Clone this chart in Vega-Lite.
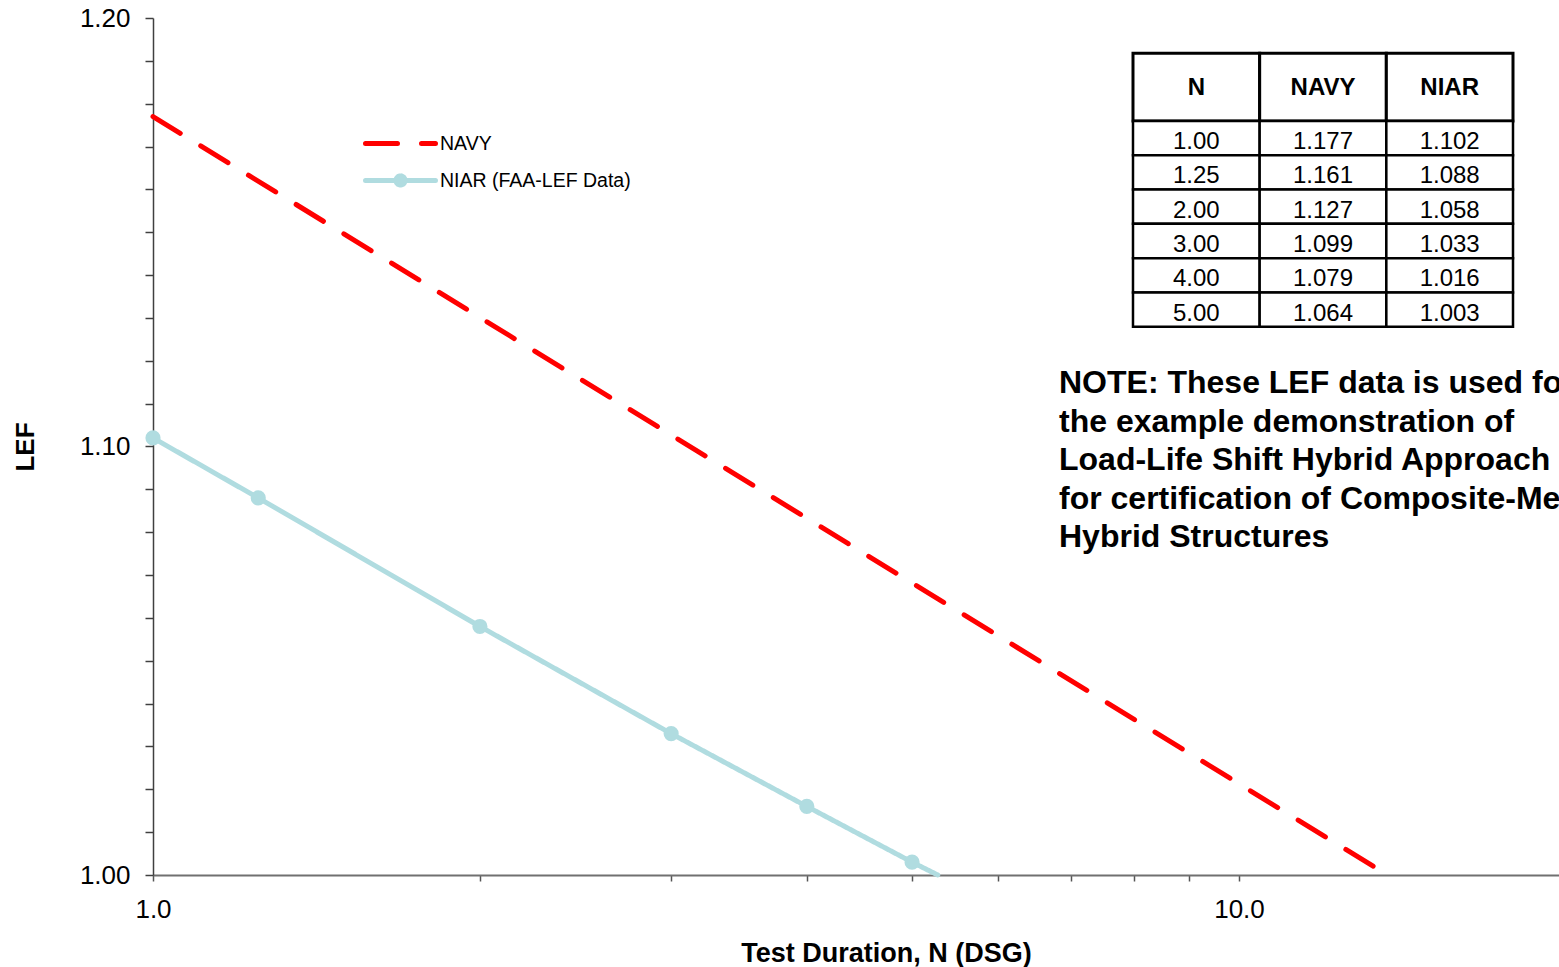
{
  "$schema": "https://vega.github.io/schema/vega-lite/v6.json",
  "width": 1406,
  "height": 857,
  "autosize": {"type": "none"},
  "padding": {"left": 153, "top": 18, "right": 0, "bottom": 92},
  "background": "white",
  "config": {"view": {"stroke": null}, "font": "Liberation Sans"},
  "datasets": {
    "lines": [
      {"series": "NAVY", "N": 1, "LEF": 1.177},
      {"series": "NAVY", "N": 13.7, "LEF": 1.0},
      {"series": "NIAR (FAA-LEF Data)", "N": 1, "LEF": 1.102},
      {"series": "NIAR (FAA-LEF Data)", "N": 1.25, "LEF": 1.088},
      {"series": "NIAR (FAA-LEF Data)", "N": 2, "LEF": 1.058},
      {"series": "NIAR (FAA-LEF Data)", "N": 3, "LEF": 1.033},
      {"series": "NIAR (FAA-LEF Data)", "N": 4, "LEF": 1.016},
      {"series": "NIAR (FAA-LEF Data)", "N": 5, "LEF": 1.003},
      {"series": "NIAR (FAA-LEF Data)", "N": 5.28, "LEF": 1.0}
    ],
    "niar_pts": [
      {"N": 1, "LEF": 1.102},
      {"N": 1.25, "LEF": 1.088},
      {"N": 2, "LEF": 1.058},
      {"N": 3, "LEF": 1.033},
      {"N": 4, "LEF": 1.016},
      {"N": 5, "LEF": 1.003}
    ],
    "hdr": [
      {"col": "N", "part": "header"},
      {"col": "NAVY", "part": "header"},
      {"col": "NIAR", "part": "header"}
    ],
    "tbl": [
      {"N": "1.00", "NAVY": "1.177", "NIAR": "1.102"},
      {"N": "1.25", "NAVY": "1.161", "NIAR": "1.088"},
      {"N": "2.00", "NAVY": "1.127", "NIAR": "1.058"},
      {"N": "3.00", "NAVY": "1.099", "NIAR": "1.033"},
      {"N": "4.00", "NAVY": "1.079", "NIAR": "1.016"},
      {"N": "5.00", "NAVY": "1.064", "NIAR": "1.003"}
    ],
    "note": [
      {"line": 1, "text": "NOTE: These LEF data is used for"},
      {"line": 2, "text": "the example demonstration of"},
      {"line": 3, "text": "Load-Life Shift Hybrid Approach"},
      {"line": 4, "text": "for certification of Composite-Metal"},
      {"line": 5, "text": "Hybrid Structures"}
    ]
  },
  "layer": [
    {
      "layer": [
        {
          "data": {"name": "lines"},
          "mark": {"type": "line", "strokeWidth": 5, "strokeCap": "round"},
          "encoding": {
            "x": {
              "field": "N", "type": "quantitative",
              "scale": {"type": "log", "domain": [1, 19.71], "nice": false},
              "axis": {
                "values": [1, 2, 3, 4, 5, 6, 7, 8, 9, 10],
                "labelExpr": "datum.value == 1 || datum.value == 10 ? format(datum.value, '.1f') : ''",
                "grid": false,
                "tickSize": 6, "tickColor": "#555555", "tickWidth": 1.5,
                "domainColor": "#707070", "domainWidth": 2,
                "labelFontSize": 26, "labelFont": "Liberation Sans", "labelColor": "black",
                "labelPadding": 15, "labelFlush": false, "labelOverlap": false, "labelBound": false,
                "title": "Test Duration, N (DSG)",
                "titleFontSize": 27, "titleFontWeight": "bold", "titleColor": "black", "titleFont": "Liberation Sans",
                "titleX": 733, "titleY": 86, "titleBaseline": "alphabetic", "titleAlign": "center"
              }
            },
            "y": {
              "field": "LEF", "type": "quantitative",
              "scale": {"domain": [1.0, 1.2], "nice": false, "zero": false},
              "axis": {
                "values": [1.0, 1.01, 1.02, 1.03, 1.04, 1.05, 1.06, 1.07, 1.08, 1.09, 1.1, 1.11, 1.12, 1.13, 1.14, 1.15, 1.16, 1.17, 1.18, 1.19, 1.2],
                "labelExpr": "round(datum.value*100) % 10 == 0 ? format(datum.value, '.2f') : ''",
                "grid": false,
                "tickSize": 8, "tickColor": "#404040", "tickWidth": 1.5,
                "domainColor": "#404040", "domainWidth": 1.5,
                "labelFontSize": 26, "labelFont": "Liberation Sans", "labelColor": "black",
                "labelPadding": 15, "labelOverlap": false, "labelBound": false, "labelFlush": false,
                "title": "LEF",
                "titleFontSize": 26, "titleFontWeight": "bold", "titleColor": "black", "titleFont": "Liberation Sans",
                "titleX": -120, "titleY": 428.5, "titleAngle": -90, "titleBaseline": "alphabetic", "titleAlign": "center"
              }
            },
            "color": {
              "field": "series", "type": "nominal",
              "scale": {"domain": ["NAVY", "NIAR (FAA-LEF Data)"], "range": ["#FF0000", "#B0DCE0"]},
              "legend": {
                "orient": "none", "legendX": 227.5, "legendY": 105.5, "title": null,
                "symbolType": "M-2,0H2", "symbolSize": 1225, "symbolStrokeWidth": 5,
                "labelFontSize": 19.5, "labelFont": "Liberation Sans", "labelColor": "black", "labelLimit": 0,
                "labelOffset": 19.5, "rowPadding": 7, "padding": 0,
                "encode": {
                  "symbols": {
                    "update": {
                      "shape": {"signal": "datum.value === 'NAVY' ? 'M-2,0H2' : 'M-2,0H2M0.26,0A0.26,0.26,0,1,1,-0.26,0A0.26,0.26,0,1,1,0.26,0'"},
                      "fill": {"signal": "datum.value === 'NAVY' ? 'transparent' : '#B0DCE0'"},
                      "strokeCap": {"value": "round"}
                    }
                  }
                }
              }
            },
            "strokeDash": {
              "field": "series", "type": "nominal",
              "scale": {"domain": ["NAVY", "NIAR (FAA-LEF Data)"], "range": [[32, 24], [1, 0]]},
              "legend": {
                "orient": "none", "legendX": 227.5, "legendY": 105.5, "title": null,
                "symbolType": "M-2,0H2", "symbolSize": 1225, "symbolStrokeWidth": 5,
                "labelFontSize": 19.5, "labelFont": "Liberation Sans", "labelColor": "black", "labelLimit": 0,
                "labelOffset": 19.5, "rowPadding": 7, "padding": 0,
                "encode": {
                  "symbols": {
                    "update": {
                      "shape": {"signal": "datum.value === 'NAVY' ? 'M-2,0H2' : 'M-2,0H2M0.26,0A0.26,0.26,0,1,1,-0.26,0A0.26,0.26,0,1,1,0.26,0'"},
                      "fill": {"signal": "datum.value === 'NAVY' ? 'transparent' : '#B0DCE0'"},
                      "strokeCap": {"value": "round"}
                    }
                  }
                }
              }
            }
          }
        },
        {
          "data": {"name": "niar_pts"},
          "mark": {"type": "point", "filled": true, "size": 230, "opacity": 1, "color": "#B0DCE0"},
          "encoding": {
            "x": {"field": "N", "type": "quantitative"},
            "y": {"field": "LEF", "type": "quantitative"}
          }
        }
      ]
    },
    {
      "layer": [
        {
          "data": {"name": "hdr"},
          "encoding": {
            "x": {"field": "col", "type": "nominal", "scale": {"type": "band", "domain": ["N", "NAVY", "NIAR"], "range": [980, 1360], "paddingInner": 0, "paddingOuter": 0}, "axis": null},
            "y": {"field": "part", "type": "nominal", "scale": {"type": "band", "domain": ["header"], "range": [35.3, 103], "paddingInner": 0, "paddingOuter": 0}, "axis": null}
          },
          "layer": [
            {"mark": {"type": "rect", "fill": "white", "stroke": "black", "strokeWidth": 3}},
            {
              "mark": {"type": "text", "font": "Liberation Sans", "fontSize": 24, "fontWeight": "bold", "color": "black", "baseline": "middle", "align": "center", "dy": 1},
              "encoding": {"text": {"field": "col"}}
            }
          ]
        },
        {
          "data": {"name": "tbl"},
          "transform": [{"fold": ["N", "NAVY", "NIAR"], "as": ["col", "val"]}],
          "encoding": {
            "x": {"field": "col", "type": "nominal", "scale": {"type": "band", "domain": ["N", "NAVY", "NIAR"], "range": [980, 1360], "paddingInner": 0, "paddingOuter": 0}, "axis": null},
            "y": {"field": "N", "type": "nominal", "scale": {"type": "band", "domain": ["1.00", "1.25", "2.00", "3.00", "4.00", "5.00"], "range": [103, 308.7], "paddingInner": 0, "paddingOuter": 0}, "axis": null}
          },
          "layer": [
            {"mark": {"type": "rect", "fill": "white", "stroke": "black", "strokeWidth": 2.5}},
            {
              "mark": {"type": "text", "font": "Liberation Sans", "fontSize": 24, "color": "black", "baseline": "middle", "align": "center", "dy": 4},
              "encoding": {"text": {"field": "val"}}
            }
          ]
        }
      ],
      "resolve": {"scale": {"y": "independent"}}
    },
    {
      "data": {"name": "note"},
      "mark": {"type": "text", "font": "Liberation Sans", "fontSize": 32, "fontWeight": "bold", "color": "black", "align": "left", "baseline": "middle"},
      "encoding": {
        "x": {"datum": 0, "type": "quantitative", "scale": {"domain": [0, 1], "range": [906, 1406]}, "axis": null},
        "y": {"field": "line", "type": "ordinal", "scale": {"type": "point", "domain": [1, 2, 3, 4, 5], "range": [365.4, 519.4], "padding": 0}, "axis": null},
        "text": {"field": "text"}
      }
    }
  ],
  "resolve": {"scale": {"x": "independent", "y": "independent"}}
}
